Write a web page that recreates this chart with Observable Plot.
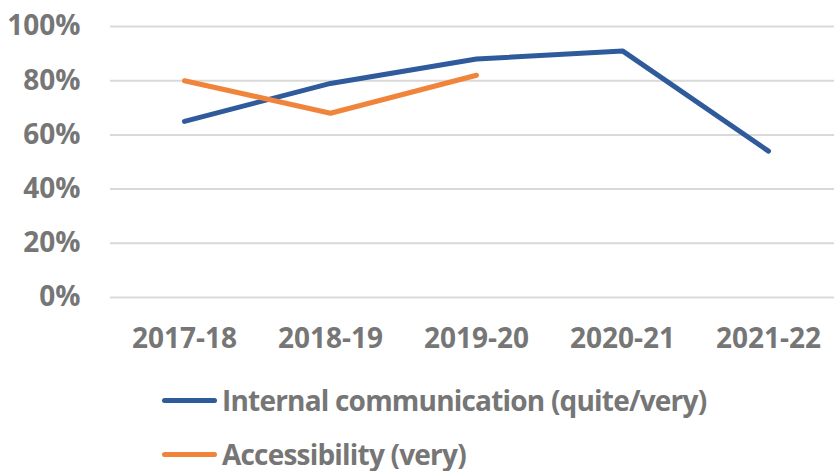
<!DOCTYPE html>
<html>
<head>
<meta charset="utf-8">
<script src="https://cdn.jsdelivr.net/npm/d3@7"></script>
<script src="https://cdn.jsdelivr.net/npm/@observablehq/plot@0.6"></script>
<style>
  html, body { margin: 0; padding: 0; background: #fff; }
  #wrap { position: relative; width: 834px; height: 471px; overflow: hidden; font-family: "Open Sans", sans-serif; }
  #chart svg { display: block; }
  .leg { position: absolute; left: 162px; display: flex; align-items: center; height: 38px;
         font: bold 28px "Open Sans", sans-serif; color: #767676; white-space: nowrap; letter-spacing: -0.8px; }
  .sw { display: inline-block; width: 55px; height: 5px; border-radius: 3px; margin-right: 5px; }
</style>
</head>
<body>
<div id="wrap">
  <div id="chart"></div>
  <div class="leg" id="leg1" style="top:381px"><span class="sw" style="background:#2f5b9c"></span><span id="t1"></span></div>
  <div class="leg" id="leg2" style="top:435px"><span class="sw" style="background:#f0843a"></span><span id="t2"></span></div>
</div>
<script>
const years = ["2017-18", "2018-19", "2019-20", "2020-21", "2021-22"];
const internal = [0.65, 0.79, 0.88, 0.91, 0.54];
const accessibility = [0.80, 0.68, 0.82];
const seriesNames = ["Internal communication (quite/very)", "Accessibility (very)"];
const seriesColors = ["#2f5b9c", "#f0843a"];
const yTicks = [0, 0.2, 0.4, 0.6, 0.8, 1.0];

const rows = [
  ...internal.map((v, i) => ({year: years[i], value: v, series: seriesNames[0]})),
  ...accessibility.map((v, i) => ({year: years[i], value: v, series: seriesNames[1]}))
];

const chart = Plot.plot({
  width: 834,
  height: 365,
  marginLeft: 110,
  marginRight: 0,
  marginTop: 26,
  marginBottom: 68,
  style: {fontFamily: "Open Sans, sans-serif", fontWeight: "bold", fontSize: "28px", color: "#767676", background: "#fff"},
  x: {type: "point", domain: years, range: [183, 769], padding: 0, label: null},
  y: {domain: [0, 1], label: null},
  color: {domain: seriesNames, range: seriesColors},
  marks: [
    Plot.ruleY(yTicks, {stroke: "#d9d9d9", strokeWidth: 2}),
    Plot.axisY(yTicks, {tickSize: 0, tickPadding: 30, tickFormat: d3.format(".0%"), label: null, fill: "#767676"}),
    Plot.axisX(years, {tickSize: 0, tickPadding: 31, label: null, fill: "#767676"}),
    Plot.line(rows, {x: "year", y: "value", z: "series", stroke: "series", strokeWidth: 5, strokeLinecap: "round", strokeLinejoin: "round"})
  ]
});
document.getElementById("chart").appendChild(chart);
document.getElementById("t1").textContent = seriesNames[0];
document.getElementById("t2").textContent = seriesNames[1];
</script>
</body>
</html>
